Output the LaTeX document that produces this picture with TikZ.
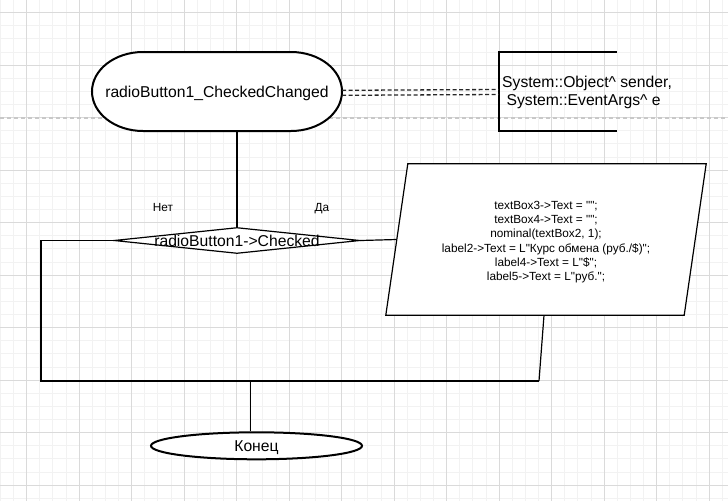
\documentclass[tikz,border=0pt]{standalone}
\usepackage{fontspec}
\newfontfamily\lsans{Liberation Sans}
\usetikzlibrary{shapes.geometric}
\definecolor{gridminor}{HTML}{F2F2F2}
\definecolor{gridmajor}{HTML}{DADADA}
\definecolor{pagebreak}{HTML}{C8C8C8}
\begin{document}
\begin{tikzpicture}[x=1pt,y=-1pt,
  big/.style={font=\lsans\fontsize{15.7}{18.8}\selectfont},
  bigcap/.style={big, text height=11.24pt, text depth=0pt},
  small/.style={font=\lsans\fontsize{11.8}{14.2}\selectfont},
  smallcap/.style={small, text height=8.45pt, text depth=0pt},
  flow/.style={draw=black, line width=1.2pt},
  thickline/.style={draw=black, line width=2pt},
  dashlink/.style={draw=black!85, line width=1.3pt, dash pattern=on 4pt off 2.5pt},
  minorline/.style={draw=gridminor, line width=1pt},
  majorline/.style={draw=gridmajor, line width=1pt}]
\useasboundingbox (0,0) rectangle (728,501);
\fill[white] (0,0) rectangle (728,501);
% grid
\foreach \i in {0,...,55} {\draw[minorline] ({0.45+13.125*\i},0) -- ({0.45+13.125*\i},501);}
\foreach \i in {0,...,38} {\draw[minorline] (0,{-0.43+13.125*\i}) -- (728,{-0.43+13.125*\i});}
\foreach \i in {0,...,13} {\draw[majorline] ({26.7+52.5*\i},0) -- ({26.7+52.5*\i},501);}
\foreach \i in {0,...,9} {\draw[majorline] (0,{12.7+52.5*\i}) -- (728,{12.7+52.5*\i});}
% page break
\draw[pagebreak, line width=1.2pt, dash pattern=on 4pt off 3pt] (0,118) -- (728,118);
% start terminator
\filldraw[thickline, fill=white] (143,52) -- (291,52)
  arc[start angle=90, end angle=-90, x radius=51pt, y radius=39.5pt] -- (143,131)
  arc[start angle=270, end angle=90, x radius=51pt, y radius=39.5pt] -- cycle;
\node[bigcap, minimum width=250pt, minimum height=79pt, inner sep=0] (start) at (217,92.3) {radioButton1\_CheckedChanged};
% annotation bracket
\node[minimum width=118pt, minimum height=79pt, inner sep=0] (args) at (558,91.5) {};
\draw[thickline] (args.north east) -- (args.north west) -- (args.south west) -- (args.south east);
\node[big, anchor=west, align=left, inner sep=0] (argstext) at (502,92.5)
  {System::Object\textasciicircum{} sender,\\\hspace{4.4pt}System::EventArgs\textasciicircum{} e};
% decision
\node[diamond, flow, fill=white, minimum width=246pt, minimum height=26pt, inner sep=0,
  label={[bigcap, inner sep=0]center:radioButton1->Checked}] (dec) at (237,240.5) {};
% process (parallelogram)
\node[minimum width=320pt, minimum height=151pt, inner sep=0] (io) at (546,239.5) {};
\filldraw[flow, fill=white] ([xshift=22pt]io.north west) -- (io.north east)
  -- ([xshift=-22pt]io.south east) -- (io.south west) -- cycle;
\coordinate (ioin) at ([xshift=11pt]io.west);
\node[small, align=center, inner sep=0] (iotext) at ([yshift=-2.5pt]io.center)
  {textBox3->Text = "";\\textBox4->Text = "";\\nominal(textBox2, 1);\\label2->Text = L"Курс обмена (руб./\$)";\\label4->Text = L"\$";\\label5->Text = L"руб.";};
% end
\node[ellipse, thickline, fill=white, minimum width=211pt, minimum height=27pt, inner sep=0, bigcap]
  (stop) at (256.5,445.8) {Конец};
% labels
\node[smallcap] (no) at (163,207) {Нет};
\node[smallcap] (yes) at (322,207) {Да};
% connectors
\coordinate (jl) at (41,381);
\coordinate (jr) at (539,381);
\coordinate (jm) at (250.7,381);
\draw[dashlink] ([yshift=2pt]start.east) -- ([yshift=2pt]args.west);
\draw[dashlink] ([yshift=-3pt]start.east) -- ([yshift=-3pt]args.west);
\draw[flow] (dec.north |- start.south) -- (dec.north);
\draw[flow] (dec.west) -- (dec.west -| jl) -- (jl) -- (jr);
\draw[flow] (dec.east) -- (ioin);
\draw[flow] ([xshift=-2pt]io.south) -- (jr);
\draw[flow] (jm) -- (jm |- stop.north);
\end{tikzpicture}
\end{document}
